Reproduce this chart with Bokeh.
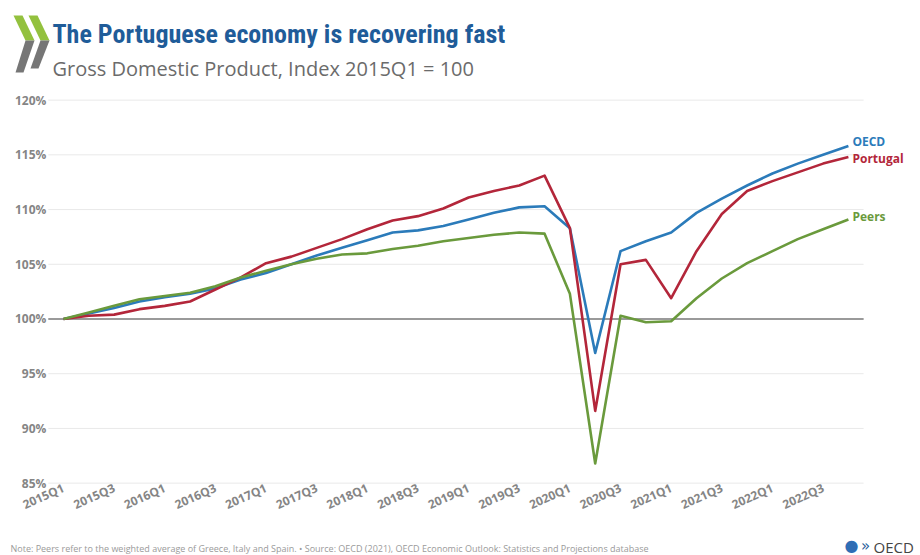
import math
from bokeh.plotting import figure
from bokeh.models import (Range1d, FixedTicker, PrintfTickFormatter, Label,
                          PolyAnnotation)
from bokeh.embed import file_html
from bokeh.resources import INLINE

# ---------------- data ----------------
quarters = [f"{y}Q{q}" for y in range(2015, 2023) for q in range(1, 5)]
oecd = [100.0, 100.5, 101.0, 101.6, 102.0, 102.3, 102.8, 103.6,
        104.2, 105.0, 105.8, 106.5, 107.2, 107.9, 108.1, 108.5,
        109.1, 109.7, 110.2, 110.3, 108.3, 96.9, 106.2, 107.1,
        107.9, 109.7, 111.0, 112.2, 113.3, 114.2, 115.0, 115.8]
portugal = [100.0, 100.3, 100.4, 100.9, 101.2, 101.6, 102.7, 103.8,
            105.1, 105.7, 106.5, 107.3, 108.2, 109.0, 109.4, 110.1,
            111.1, 111.7, 112.2, 113.1, 108.3, 91.6, 105.0, 105.4,
            101.9, 106.2, 109.6, 111.7, 112.6, 113.4, 114.2, 114.8]
peers = [100.0, 100.6, 101.2, 101.8, 102.1, 102.4, 103.0, 103.8,
         104.4, 105.0, 105.5, 105.9, 106.0, 106.4, 106.7, 107.1,
         107.4, 107.7, 107.9, 107.8, 102.3, 86.8, 100.3, 99.7,
         99.8, 101.9, 103.7, 105.1, 106.2, 107.3, 108.2, 109.1]
series_names = ["OECD", "Portugal", "Peers"]
y_ticks = [85, 90, 95, 100, 105, 110, 115, 120]

x = list(range(len(quarters)))
colors = {"OECD": "#2b7bba", "Portugal": "#b3263a", "Peers": "#6a9a3c"}
values = {"OECD": oecd, "Portugal": portugal, "Peers": peers}

# The frame covers the whole canvas; the axes are drawn at fixed locations inside it.
W, H = 920, 555
X0, X1 = -0.6, len(x) - 1 + 0.6     # extent of the grid area
p = figure(width=W, height=H, output_backend="svg", toolbar_location=None,
           x_range=Range1d(-2.488, 33.847), y_range=Range1d(78.388, 129.105),
           min_border=0)
p.outline_line_color = None
p.background_fill_color = "white"
p.border_fill_color = "white"
p.grid.visible = False

p.xaxis.fixed_location = y_ticks[0]
p.yaxis.fixed_location = X0
tick_idx = x[::2]
p.xaxis.ticker = FixedTicker(ticks=tick_idx)
p.xaxis.major_label_overrides = {i: quarters[i] for i in tick_idx}
p.xaxis.major_label_orientation = 0.42
p.yaxis.ticker = FixedTicker(ticks=y_ticks)
p.yaxis.formatter = PrintfTickFormatter(format="%d%%")
for ax in (p.xaxis, p.yaxis):
    ax.axis_line_color = None
    ax.major_tick_line_color = None
    ax.minor_tick_line_color = None
    ax.major_tick_out = 0
    ax.major_tick_in = 0
    ax.minor_tick_out = 0
    ax.major_label_text_color = "#858585"
    ax.major_label_text_font = "Open Sans"
    ax.major_label_text_font_style = "bold"
    ax.major_label_text_font_size = "12px"
p.yaxis.major_label_standoff = 2
p.xaxis.major_label_standoff = 4

# horizontal gridlines and the 100% reference line
p.segment(x0=X0, x1=X1, y0=y_ticks, y1=y_ticks, line_color="#e9e9e9", line_width=1)
p.segment(x0=X0, x1=X1, y0=100, y1=100, line_color="#9a9a9a", line_width=2)

offsets = {"OECD": 4.5, "Portugal": -1.5, "Peers": 3}
for name in series_names:
    p.line(x, values[name], line_color=colors[name], line_width=2.6, line_join="round")
    p.add_layout(Label(x=x[-1], y=values[name][-1], text=name, x_offset=4,
                       y_offset=offsets[name],
                       text_color=colors[name], text_font="Open Sans",
                       text_font_style="bold", text_font_size="12px",
                       text_baseline="middle", text_align="left"))


def sl(mx, my, **kw):
    """label placed at a pixel position of the canvas (from its top-left corner)"""
    p.add_layout(Label(x=mx, y=H - my, x_units="screen", y_units="screen", **kw))


def poly(pts, color):
    p.add_layout(PolyAnnotation(xs=[a for a, _ in pts], ys=[H - b for _, b in pts],
                                xs_units="screen", ys_units="screen",
                                fill_color=color, fill_alpha=1, line_color=None))


# OECD chevron logo (decoration)
for dx, bot in ((0, 72), (15, 68)):
    poly([(13 + dx, 15), (22 + dx, 15), (34 + dx, 40), (25 + dx, 40)], "#93c13e")
    poly([(25 + dx, 40), (34 + dx, 40), (23 + dx, bot), (15 + dx, bot)], "#767676")

sl(52, 33, text="The Portuguese economy is recovering fast",
   text_font="Roboto Condensed", text_font_style="bold",
   text_font_size="26px", text_color="#1f5c99", text_baseline="middle")
sl(52, 68, text="Gross Domestic Product, Index 2015Q1 = 100",
   text_font="Open Sans", text_font_size="20px", text_color="#6b6b6b",
   text_baseline="middle")

sl(10, 548, text="Note: Peers refer to the weighted average of Greece, Italy and Spain. \u2022 Source: OECD (2021), OECD Economic Outlook: Statistics and Projections database",
   text_font="Open Sans", text_font_size="9px", text_color="#9a9a9a", text_baseline="middle")
sl(851, 545, text="\u25CF", text_font="DejaVu Sans", text_font_size="16px",
   text_color="#2f6eb5", text_baseline="middle", text_align="center")
sl(865, 545, text="\u00BB", text_font="DejaVu Sans", text_font_size="15px",
   text_color="#1f5c99", text_baseline="middle", text_align="center")
sl(873, 546, text="OECD", text_font="Open Sans", text_font_size="15px",
   text_color="#444444", text_baseline="middle", text_align="left")

open("out.html", "w").write(file_html(p, INLINE))
